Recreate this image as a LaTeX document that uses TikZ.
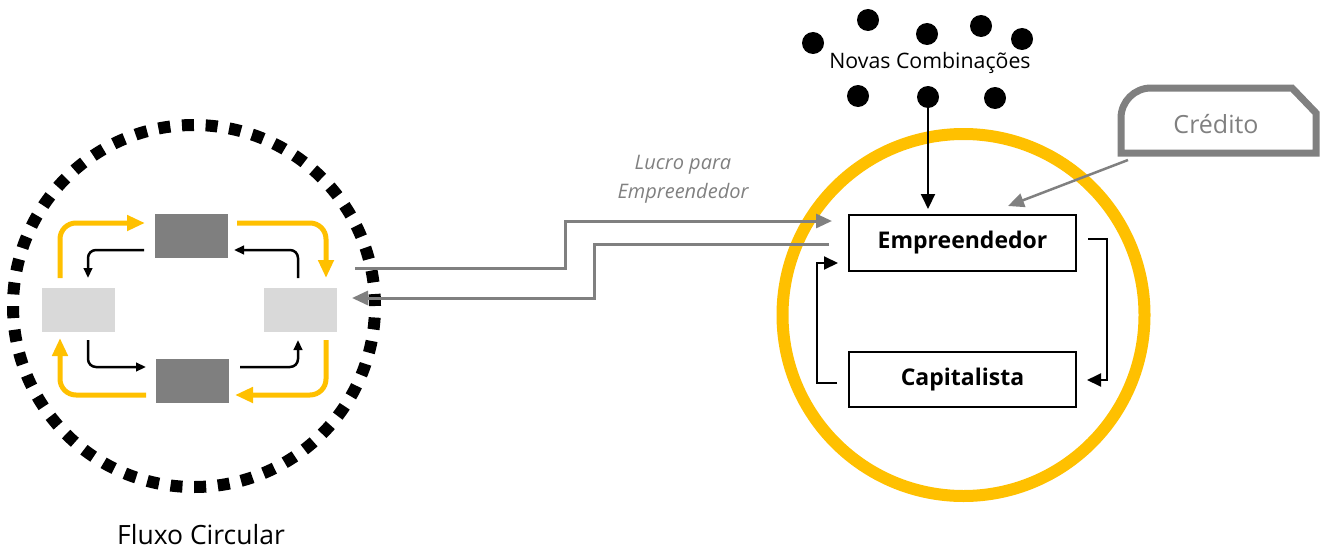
\documentclass[tikz,border=0pt]{standalone}
\usepackage{fontspec}
\setmainfont{Open Sans}
\usetikzlibrary{arrows.meta,calc}
\definecolor{ouro}{HTML}{FFC000}
\definecolor{cinza}{HTML}{808080}
\definecolor{cinzaclaro}{HTML}{D9D9D9}
\definecolor{cinzaesc}{HTML}{7F7F7F}
\tikzset{
  yarrow/.style={draw=ouro,line width=5pt,rounded corners=16pt,-{Triangle[length=18pt,width=15pt]}},
  sarrow/.style={draw=black,line width=2.5pt,rounded corners=8pt,-{Triangle[length=10pt,width=8.5pt]}},
  barrow/.style={draw=black,line width=2pt,-{Triangle[length=14pt,width=13pt]}},
  garrow/.style={draw=cinza,line width=3pt,-{Triangle[length=16pt,width=14pt]}},
  darkbox/.style={fill=cinzaesc,inner sep=0pt,minimum width=73pt,minimum height=44pt},
  lightbox/.style={fill=cinzaclaro,inner sep=0pt,minimum width=73pt,minimum height=44pt},
  agentbox/.style={draw=black,line width=2pt,inner sep=0pt,minimum width=227pt,minimum height=56pt,font=\fontsize{23}{27}\selectfont\bfseries},
  dot/.style={circle,fill=black,inner sep=0pt,minimum size=22pt},
  lbl/.style={inner sep=0pt,anchor=base}
}
\begin{document}
\begin{tikzpicture}[x=1pt,y=-1pt]
\useasboundingbox (0,0) rectangle (1329,551);
% Fluxo circular
\node[circle,draw=black,line width=12pt,dash pattern=on 12pt off 11.7pt,minimum size=362pt,inner sep=0pt] (fc) at (194,306) {};
\node[darkbox] (top) at (191.5,235.5) {};
\node[darkbox] (bot) at (192.5,381) {};
\node[lightbox] (lft) at (78,310) {};
\node[lightbox] (rgt) at (300.5,310) {};
\coordinate (y1s) at (60,278); \coordinate (y1e) at (145,223);
\coordinate (y2s) at (237,223); \coordinate (y2e) at (326,278);
\coordinate (y3s) at (326,340); \coordinate (y3e) at (235,395);
\coordinate (y4s) at (146,395); \coordinate (y4e) at (60,338);
\draw[yarrow] (y1s) |- (y1e);
\draw[yarrow] (y2s) -| (y2e);
\draw[yarrow] (y3s) |- (y3e);
\draw[yarrow] (y4s) -| (y4e);
\coordinate (b1s) at (144,250); \coordinate (b1e) at (88,278);
\coordinate (b2s) at (298,278); \coordinate (b2e) at (234,250);
\coordinate (b3s) at (88,340); \coordinate (b3e) at (146,367);
\coordinate (b4s) at (240,367); \coordinate (b4e) at (298,340);
\draw[sarrow] (b1s) -| (b1e);
\draw[sarrow] (b2s) |- (b2e);
\draw[sarrow] (b3s) |- (b3e);
\draw[sarrow] (b4s) -| (b4e);
\node[lbl,font=\fontsize{26.5}{31}\selectfont] (fluxo) at (201,544) {Fluxo Circular};
% Yellow circle
\node[circle,draw=ouro,line width=12pt,minimum size=362pt,inner sep=0pt] (yc) at (963.5,315) {};
\node[agentbox] (emp) at (962.5,243) {Empreendedor};
\node[agentbox,minimum height=55pt] (cap) at (962.5,379.5) {Capitalista};
\coordinate (e1) at (1088,239); \coordinate (e2) at (1087,380);
\draw[barrow] (e1) -- (1107,239) -- (1107,380) -- (e2);
\coordinate (c1) at (837,383); \coordinate (c2) at (838,263);
\draw[barrow] (c1) -- (817,383) -- (817,263) -- (c2);
% grey flows
\coordinate (g1s) at (355,268); \coordinate (g1e) at (832,221);
\coordinate (g2s) at (829,244); \coordinate (g2e) at (352,298);
\draw[garrow] (g1s) -- (565,268) -- (565,221) -- (g1e);
\draw[garrow] (g2s) -- (594,244) -- (594,298) -- (g2e);
\node[font=\fontsize{20}{29}\selectfont\itshape,text=cinza,align=center,inner sep=0pt] (lucro) at (683,179) {Lucro para\\Empreendedor};
% Novas combinacoes
\node[dot] (d1) at (813,43) {};
\node[dot] (d2) at (868,20) {};
\node[dot] (d3) at (927,34) {};
\node[dot] (d4) at (981,26) {};
\node[dot] (d5) at (1022,39) {};
\node[dot] (d6) at (858,96) {};
\node[dot] (d7) at (928,97) {};
\node[dot] (d8) at (995,98) {};
\node[lbl,font=\fontsize{21.3}{25}\selectfont] (novas) at (930,68) {Novas Combinações};
\draw[barrow,-{Triangle[length=15pt,width=14pt]},shorten >=5pt] (d7.center) -- (d7.center |- emp.north);
% Credito
\draw[draw=cinza,line width=7pt] (1121,153) -- (1121,118) arc[start angle=180,end angle=270,radius=30] -- (1292,88) -- (1316,113) -- (1316,153) -- cycle;
\node[lbl,text=cinza,font=\fontsize{25}{29}\selectfont] (cred) at (1216,133) {Crédito};
\coordinate (crs) at (1128,160); \coordinate (cre) at (1008,206);
\draw[garrow,line width=2.5pt] (crs) -- (cre);
\end{tikzpicture}
\end{document}
